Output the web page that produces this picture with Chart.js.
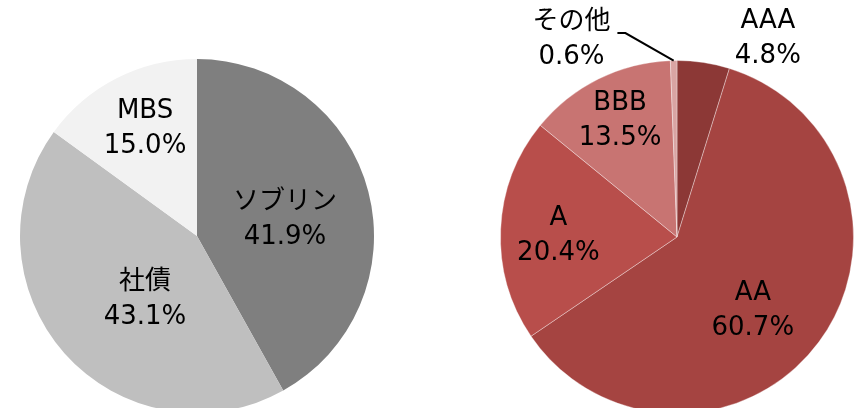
<!DOCTYPE html>
<html>
<head>
<meta charset="utf-8">
<script src="https://cdn.jsdelivr.net/npm/chart.js@4"></script>
<style>
  html, body { margin: 0; padding: 0; background: #fff; overflow: hidden; width: 858px; height: 408px; }
  canvas { position: absolute; top: 0; }
  #leftPie { left: 0; }
  #rightPie { left: 460px; }
</style>
</head>
<body>
<canvas id="leftPie" width="394" height="472"></canvas>
<canvas id="rightPie" width="398" height="474"></canvas>
<script>
// left pie: by sector
const leftLabels = ['ソブリン', '社債', 'MBS'];
const leftValues = [41.9, 43.1, 15.0];
const leftColors = ['#7f7f7f', '#bfbfbf', '#f2f2f2'];

// right pie: by rating
const rightLabels = ['AAA', 'AA', 'A', 'BBB', 'その他'];
const rightValues = [4.8, 60.7, 20.4, 13.5, 0.6];
const rightColors = ['#8c3836', '#a54441', '#b84e4b', '#c87472', '#d9a4a3'];

// label placement: angle (deg, clockwise from top) and distance as fraction of radius
const leftLabelPos = [[79.7, 0.505], [219.1, 0.466], [334.1, 0.672]];
const rightLabelPos = [[24.6, 1.236], [134.2, 0.599], [270.7, 0.672], [333.9, 0.733], [331.8, 1.266]];

const FONT = '26px "DejaVu Sans", "Noto Sans CJK JP", sans-serif';

const pieLabels = {
  id: 'pieLabels',
  afterDatasetsDraw(chart, args, opts) {
    const c = chart.ctx;
    const meta = chart.getDatasetMeta(0);
    const values = chart.data.datasets[0].data;
    c.save();
    c.font = FONT;
    c.fillStyle = '#000';
    c.textAlign = 'center';
    c.textBaseline = 'middle';
    meta.data.forEach((arc, i) => {
      const p = arc.getProps(['x', 'y', 'outerRadius', 'startAngle', 'endAngle'], true);
      const [deg, frac] = opts.pos[i];
      const a = deg * Math.PI / 180;
      const lx = p.x + Math.sin(a) * p.outerRadius * frac;
      const ly = p.y - Math.cos(a) * p.outerRadius * frac;
      c.fillText(chart.data.labels[i], lx, ly - 17.5);
      c.fillText(values[i].toFixed(1) + '%', lx, ly + 17.5);
      if (opts.leader === i) {
        const mid = (p.startAngle + p.endAngle) / 2;
        const ex = p.x + Math.cos(mid) * p.outerRadius;
        const ey = p.y + Math.sin(mid) * p.outerRadius;
        const sx = lx + 46, sy = ly - 7;
        c.beginPath();
        c.strokeStyle = '#000';
        c.lineWidth = 2;
        c.moveTo(sx, sy);
        c.lineTo(sx + 8, sy);
        c.lineTo(ex, ey);
        c.stroke();
      }
    });
    c.restore();
  }
};

function makePie(id, labels, values, colors, pos, pad, border, leader) {
  new Chart(document.getElementById(id), {
    type: 'pie',
    data: {
      labels: labels,
      datasets: [{
        data: values,
        backgroundColor: colors,
        borderColor: 'rgba(255,255,255,0.35)',
        borderWidth: border
      }]
    },
    options: {
      responsive: false,
      animation: false,
      devicePixelRatio: 1,
      layout: { padding: pad },
      plugins: {
        legend: { display: false },
        tooltip: { enabled: false },
        pieLabels: { pos: pos, leader: leader }
      }
    },
    plugins: [pieLabels]
  });
}

makePie('leftPie', leftLabels, leftValues, leftColors, leftLabelPos,
  { left: 20, right: 20, top: 59, bottom: 59 }, 0, -1);
makePie('rightPie', rightLabels, rightValues, rightColors, rightLabelPos,
  { left: 40, right: 4, top: 60, bottom: 60 }, 1, 4);
</script>
</body>
</html>
